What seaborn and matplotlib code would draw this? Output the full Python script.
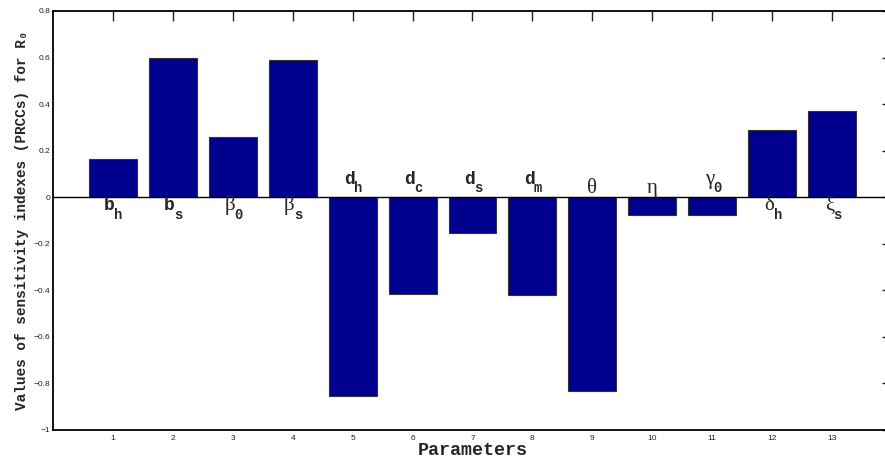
import matplotlib
matplotlib.use("Agg")
import matplotlib.pyplot as plt
import seaborn as sns
import pandas as pd

positions = list(range(1, 14))
prcc_values = [0.165, 0.600, 0.260, 0.589, -0.856, -0.414, -0.154, -0.418,
               -0.834, -0.076, -0.076, 0.290, 0.372]
# (main symbol, subscript) for each parameter
param_main = ['b', 'b', '\u03b2', '\u03b2', 'd', 'd', 'd', 'd',
              '\u03b8', '\u03b7', '\u03b3', '\u03b4', '\u03be']
param_sub = ['h', 's', '0', 's', 'h', 'c', 's', 'm', '', '', '0', 'h', 's']
y_ticks = [-1, -0.8, -0.6, -0.4, -0.2, 0, 0.2, 0.4, 0.6, 0.8]
y_tick_labels = ['\u22121', '\u22120.8', '\u22120.6', '\u22120.4', '\u22120.2',
                 '0', '0.2', '0.4', '0.6', '0.8']

sns.set_style("white")
plt.rcParams['font.family'] = ['Liberation Sans', 'DejaVu Sans']

df = pd.DataFrame({'pos': positions, 'val': prcc_values})

fig = plt.figure(figsize=(8.85, 4.62), dpi=100)
ax = fig.add_axes([53 / 885, 32 / 462, 839 / 885, 419 / 462])
sns.barplot(data=df, x='pos', y='val', native_scale=True, width=0.8,
            color='#00008F', saturation=1, edgecolor='#333333', linewidth=0.8,
            ax=ax, errorbar=None)
for p in ax.patches:
    p.set_facecolor('#00008F')

ax.set_xlim(0, 14)
ax.set_ylim(-1, 0.8)
ax.axhline(0, color='black', lw=1.0, zorder=3)
ax.set_xticks(positions)
ax.set_xticklabels([str(p) for p in positions])
ax.set_yticks(y_ticks)
ax.set_yticklabels(y_tick_labels)
ax.tick_params(axis='both', direction='in', length=7, width=1.0, labelsize=6,
               colors='#222222', top=True, right=True, pad=3.5)
ax.tick_params(axis='y', pad=2)
for s in ax.spines.values():
    s.set_visible(True)
    s.set_color('black')
    s.set_linewidth(1.3)

px = 72 / 100  # points per pixel
mono = ['Liberation Mono', 'DejaVu Sans Mono']
serif = ['Liberation Serif', 'DejaVu Serif']
for x, v, m, sub in zip(positions, prcc_values, param_main, param_sub):
    greek = not m.isascii()
    fam = serif if greek else mono
    fs = 15 if greek else 13
    w = 'normal' if greek else 'bold'
    if v >= 0:
        main_dy, sub_dy = -12.5, -22
    else:
        if sub:
            main_dy, sub_dy = 13, 5
        else:
            main_dy, sub_dy = 4, 0
    if sub:
        ax.annotate(m, xy=(x, 0), xytext=(2 * px, main_dy * px),
                    textcoords='offset points', ha='right', va='baseline',
                    fontsize=fs, family=fam, fontweight=w)
        ax.annotate(sub, xy=(x, 0), xytext=(1.5 * px, sub_dy * px),
                    textcoords='offset points', ha='left', va='baseline',
                    fontsize=10, family=mono, fontweight='bold')
    else:
        ax.annotate(m, xy=(x, 0), xytext=(0, main_dy * px),
                    textcoords='offset points', ha='center', va='baseline',
                    fontsize=fs, family=fam, fontweight=w)

ax.set_xlabel('Parameters', family=mono, fontweight='bold',
              fontsize=13.2, labelpad=0)
ax.set_ylabel('Values of sensitivity indexes (PRCCs) for R\u2080',
              family=mono, fontweight='bold', fontsize=10.4, labelpad=3)

fig.savefig('out.png', dpi=100)
